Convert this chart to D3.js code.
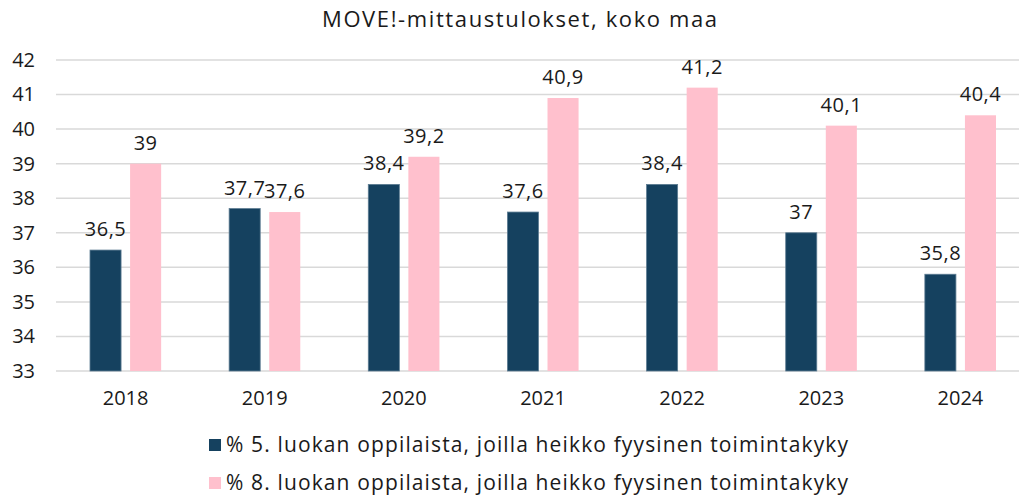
<!DOCTYPE html>
<html>
<head>
<meta charset="utf-8">
<script src="https://cdn.jsdelivr.net/npm/d3@7"></script>
<style>
  body { margin: 0; background: #fff; }
  svg { font-family: "Open Sans", sans-serif; }
</style>
</head>
<body>
<div id="chart"></div>
<script>
// Data
let years = ["2018", "2019", "2020", "2021", "2022", "2023", "2024"];
let grade5 = [36.5, 37.7, 38.4, 37.6, 38.4, 37.0, 35.8];
let grade8 = [39.0, 37.6, 39.2, 40.9, 41.2, 40.1, 40.4];
let seriesNames = [
    "% 5. luokan oppilaista, joilla heikko fyysinen toimintakyky",
    "% 8. luokan oppilaista, joilla heikko fyysinen toimintakyky"
];
let yTicks = [33, 34, 35, 36, 37, 38, 39, 40, 41, 42];

let width = 1019;
let height = 496;
let colors = ["#15415f", "#ffc0cd"];
let textColor = "#1a1a1a";

let svg = d3.select("#chart")
            .append("svg")
            .attr("width", width)
            .attr("height", height);

let xScale = d3.scaleBand()
                .domain(years)
                .range([56, 1030]);

let inner = d3.scaleBand()
                .domain([0, 1])
                .range([34, xScale.bandwidth() - 34])
                .paddingInner(0.225);

let yScale = d3.scaleLinear()
                .domain([33, 42])
                .range([371, 60]);

// Title
svg.append("text")
    .attr("x", 519.5)
    .attr("y", 27)
    .attr("text-anchor", "middle")
    .attr("font-size", 22)
    .attr("textLength", 395)
    .attr("lengthAdjust", "spacing")
    .attr("fill", textColor)
    .text("MOVE!-mittaustulokset, koko maa");

// Gridlines
svg.append("g")
    .selectAll("line")
    .data(yTicks)
    .enter()
    .append("line")
    .attr("x1", 56)
    .attr("x2", width)
    .attr("y1", d => yScale(d))
    .attr("y2", d => yScale(d))
    .attr("stroke", "#d9d9d9")
    .attr("stroke-width", 1.5);

// Y axis labels
let yAxis = d3.axisLeft(yScale)
                .tickValues(yTicks)
                .tickSize(0)
                .tickPadding(0)
                .tickFormat(d3.format("d"));

svg.append("g")
    .attr("transform", "translate(35,0)")
    .call(yAxis)
    .call(g => g.select(".domain").remove())
    .selectAll("text")
    .attr("font-size", 20)
    .attr("font-family", "Open Sans, sans-serif")
    .attr("fill", textColor);

// X axis labels
let xAxis = d3.axisBottom(xScale)
                .tickSize(0)
                .tickPadding(0);

svg.append("g")
    .attr("transform", "translate(0,391)")
    .call(xAxis)
    .call(g => g.select(".domain").remove())
    .selectAll("text")
    .attr("font-size", 20)
    .attr("font-family", "Open Sans, sans-serif")
    .attr("fill", textColor);

// Bars
let seriesData = [grade5, grade8];
let fmt = v => String(v).replace(".", ",");

seriesData.forEach((vals, s) => {
    let g = svg.append("g");
    g.selectAll("rect")
        .data(vals)
        .enter()
        .append("rect")
        .attr("x", (d, i) => xScale(years[i]) + inner(s))
        .attr("y", d => yScale(d))
        .attr("width", inner.bandwidth())
        .attr("height", d => yScale(33) - yScale(d))
        .attr("fill", colors[s])
        .attr("stroke", s === 0 ? "#5d7c92" : "none")
        .attr("stroke-width", 0.8);

    g.selectAll("text")
        .data(vals)
        .enter()
        .append("text")
        .attr("x", (d, i) => xScale(years[i]) + inner(s) + inner.bandwidth() / 2)
        .attr("y", d => yScale(d) - 14)
        .attr("text-anchor", "middle")
        .attr("font-size", 20)
        .attr("letter-spacing", 0.5)
        .attr("fill", textColor)
        .text(d => fmt(d));
});

// Legend
let legend = svg.append("g");
legend.selectAll("rect")
    .data(seriesNames)
    .enter()
    .append("rect")
    .attr("x", 209)
    .attr("y", (d, i) => 439 + i * 38)
    .attr("width", 12)
    .attr("height", 12)
    .attr("fill", (d, i) => colors[i]);

legend.selectAll("text")
    .data(seriesNames)
    .enter()
    .append("text")
    .attr("x", 226)
    .attr("y", (d, i) => 452 + i * 38)
    .attr("font-size", 21)
    .attr("textLength", 622)
    .attr("lengthAdjust", "spacing")
    .attr("fill", textColor)
    .text(d => d);
</script>
</body>
</html>
